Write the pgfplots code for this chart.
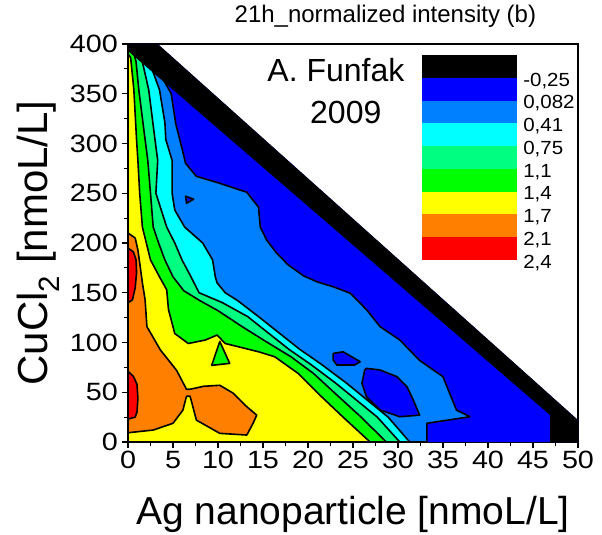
\documentclass[border=0pt]{standalone}
\usepackage{fontspec}
\setmainfont{Liberation Sans}
\usepackage{pgfplots}
\pgfplotsset{compat=1.18}
\definecolor{cblue}{RGB}{0,0,255}
\definecolor{cazure}{RGB}{0,128,255}
\definecolor{ccyan}{RGB}{0,255,255}
\definecolor{cspring}{RGB}{0,255,128}
\definecolor{cgreen}{RGB}{0,255,0}
\definecolor{cyellow}{RGB}{255,255,0}
\definecolor{corange}{RGB}{255,128,0}
\definecolor{cred}{RGB}{255,0,0}
\tikzset{ct/.style={draw=black, line width=1.6pt, line join=round}}
\begin{document}
\begin{tikzpicture}
\path[use as bounding box] (-128pt,-93pt) rectangle (474pt,442pt);
\begin{axis}[
  at={(0pt,0pt)}, anchor=south west,
  scale only axis, width=450pt, height=398pt,
  xmin=0, xmax=50, ymin=0, ymax=400,
  clip=false,
  xtick={0,5,...,50}, ytick={0,50,...,400},
  minor x tick num=1, minor y tick num=1,
  xtick pos=left, ytick pos=left,
  tick align=outside,
  major tick length=6pt, minor tick length=4pt,
  every tick/.style={black, line width=1.2pt},
  axis line style={line width=1.3pt},
  /pgf/number format/assume math mode=true,
  tick label style={font=\fontsize{25}{25}\selectfont, xscale=1.15},
  xlabel={Ag nanoparticle [nmoL/L]},
  ylabel={CuCl\textsubscript{2} [nmoL/L]},
  xlabel style={font=\fontsize{39}{39}\selectfont, at={(axis description cs:0.5,-0.183)}, anchor=center},
  ylabel style={font=\fontsize{42}{42}\selectfont, at={(axis description cs:-0.2,0.5)}, anchor=center},
  title={21h\_normalized intensity (b)},
  title style={at={(rel axis cs:0.572,1)}, anchor=base, yshift=15pt, font=\fontsize{24}{24}\selectfont},
]
% blue (>= -0.25)
\addplot[fill=cblue, draw=none] coordinates {(0,0) (50,0) (50,22) (3.3,400) (0,400)} --cycle;
% azure (>= 0.082)
\addplot[fill=cazure, ct] coordinates {(0,0) (33.2,0) (33.2,18.8) (38,25.4) (36.5,32) (35.6,52) (35,65.6) (32.4,82) (30.2,102.5) (28,116) (26.5,133) (24.7,149.5) (22.8,156) (21,161) (19.5,167) (17.8,178) (16.5,190) (15.4,203) (14.7,216) (14.5,236) (13.2,251) (10.2,260) (7.6,267) (6.4,280) (6.0,295) (5.3,320) (4.8,350) (3.7,368) (3.0,392) (0,399)} --cycle;
% blue islands
\addplot[fill=cblue, ct] coordinates {(22.8,89) (23.9,90.7) (25.8,80.7) (25.2,77.4) (23.2,77.4) (22.8,82.4)} --cycle;
\addplot[fill=cblue, ct] coordinates {(26.5,74) (28,72.4) (29.9,65.6) (31,55.6) (31.7,42.2) (32.4,27) (30.2,25.4) (28,32.2) (26.5,45.5) (26,59) (26.3,72.4)} --cycle;
\addplot[fill=cblue, ct] coordinates {(6.4,247) (7.3,244) (6.5,240)} --cycle;
% cyan (>= 0.41)
\addplot[fill=ccyan, ct] coordinates {(0,0) (31.3,0) (28.9,25) (24.3,59) (21.5,78) (19.1,93) (14.5,126) (12.2,142) (10.8,150) (9.9,160) (9.7,166) (9.4,183) (8.3,200) (6.3,216) (5.2,233) (4.9,250) (4.9,283) (4.2,304) (4.1,321) (3.5,354) (2.7,374) (2.0,392) (0,399)} --cycle;
% spring green (>= 0.75)
\addplot[fill=cspring, ct] coordinates {(0,0) (30.2,0) (27.7,25) (23.1,59) (20.3,78) (17.9,93) (13.3,126) (10.5,140) (7.9,150) (7.0,166) (6.0,183) (5.2,200) (4.3,216) (3.7,233) (3.1,250) (3.3,283) (3.0,304) (2.3,354) (1.7,378) (1.2,394) (0,399)} --cycle;
% green (>= 1.1)
\addplot[fill=cgreen, ct] coordinates {(0,0) (28.7,0) (25.9,25) (23.0,49) (20.6,69) (18.1,85.7) (15.5,100) (12.5,117) (10.0,132) (8.0,142) (6.2,152) (5.0,166) (4.1,183) (3.4,200) (2.8,216) (2.5,250) (2.2,283) (1.9,304) (1.2,354) (0.9,382) (0.5,396) (0,399)} --cycle;
% yellow (>= 1.4)
\addplot[fill=cyellow, ct] coordinates {(0,0) (26.9,0) (23.9,25) (21.1,49) (18.9,69) (16.3,85.7) (14.5,90.7) (10.8,99) (9.9,107.5) (8.6,102.5) (6.7,99) (5.2,109) (4.5,133) (4.3,153) (3.5,166) (2.5,183) (1.6,216) (1.3,250) (1.1,283) (0.95,304) (0.65,354) (0.3,386) (0,390)} --cycle;
% green island
\addplot[fill=cgreen, ct] coordinates {(9.3,77) (11.3,79) (10.2,101)} --cycle;
% orange (>= 1.7)
\addplot[fill=corange, ct] coordinates {(0,9.3) (2.8,12) (5.0,18.8) (6.1,32) (6.5,46) (6.9,46) (7.6,22) (10.2,8.7) (13.2,7) (13.9,18.8) (14.3,27) (13.2,35.5) (11.7,49) (10.2,57) (8.4,56) (6.9,53) (6.5,53) (5.4,72) (3.6,92.5) (2.1,116) (1.9,143) (1.6,160) (1.3,180) (1.1,193) (0.8,205) (0,210)} --cycle;
% red (>= 2.1)
\addplot[fill=cred, ct] coordinates {(0,140) (0.5,143) (0.8,155) (0.95,170) (0.9,183) (0.6,191) (0,195)} --cycle;
\addplot[fill=cred, ct] coordinates {(0,23) (0.8,25) (1.0,30) (1.1,44) (1.0,58) (0.6,66) (0,71)} --cycle;
% black (< -0.25)
\addplot[fill=black, draw=none] coordinates {(0,393) (46.9,27) (46.9,0) (50,0) (50,22) (3.3,400) (0,400)} --cycle;
\node[anchor=base, font=\fontsize{32}{32}\selectfont] at (axis cs:23.1,362) {A. Funfak};
\node[anchor=base, font=\fontsize{32}{32}\selectfont] at (axis cs:24.2,320.6) {2009};
\end{axis}
\begin{axis}[
  at={(293.7pt,182pt)}, anchor=south west,
  scale only axis, width=95.6pt, height=205pt,
  xmin=0, xmax=1, ymin=0, ymax=9,
  axis line style={draw=none},
  xtick=\empty,
  ytick={0,...,8},
  yticklabels={{2,4},{2,1},{1,7},{1,4},{1,1},{0,75},{0,41},{0,082},{-0,25}},
  yticklabel pos=right,
  major tick length=0pt,
  yticklabel style={font=\fontsize{19}{19}\selectfont, xscale=1.08, yshift=-3pt, xshift=2pt},
]
\addplot[fill=cred, draw=none] coordinates {(0,0) (1,0) (1,1) (0,1)} --cycle;
\addplot[fill=corange, draw=none] coordinates {(0,1) (1,1) (1,2) (0,2)} --cycle;
\addplot[fill=cyellow, draw=none] coordinates {(0,2) (1,2) (1,3) (0,3)} --cycle;
\addplot[fill=cgreen, draw=none] coordinates {(0,3) (1,3) (1,4) (0,4)} --cycle;
\addplot[fill=cspring, draw=none] coordinates {(0,4) (1,4) (1,5) (0,5)} --cycle;
\addplot[fill=ccyan, draw=none] coordinates {(0,5) (1,5) (1,6) (0,6)} --cycle;
\addplot[fill=cazure, draw=none] coordinates {(0,6) (1,6) (1,7) (0,7)} --cycle;
\addplot[fill=cblue, draw=none] coordinates {(0,7) (1,7) (1,8) (0,8)} --cycle;
\addplot[fill=black, draw=none] coordinates {(0,8) (1,8) (1,9) (0,9)} --cycle;
\end{axis}
\end{tikzpicture}
\end{document}
